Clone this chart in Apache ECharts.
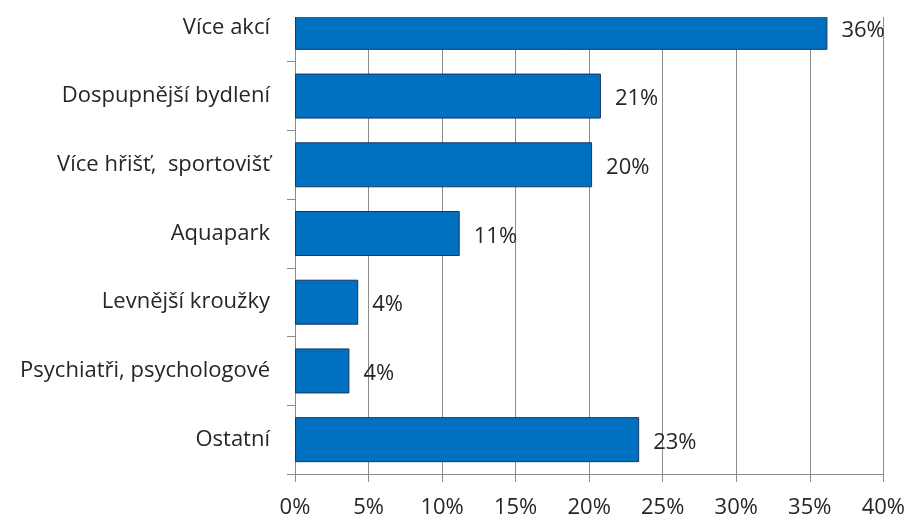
<!DOCTYPE html>
<html>
<head>
<meta charset="utf-8">
<script src="https://cdn.jsdelivr.net/npm/echarts@6/dist/echarts.min.js"></script>
<style>
  html, body { margin: 0; padding: 0; background: #fff; overflow: hidden; }
  /* the plot starts a few px above the visible picture */
  #chart { width: 908px; height: 526px; margin-top: -7px; }
</style>
</head>
<body>
<div id="chart"></div>
<script>
const categories = [
  'Více akcí',
  'Dospupnější bydlení',
  'Více hřišť,  sportovišť',
  'Aquapark',
  'Levnější kroužky',
  'Psychiatři, psychologové',
  'Ostatní',
]
const values = [36.2, 20.8, 20.2, 11.2, 4.3, 3.7, 23.4]
const xTicks = [0, 5, 10, 15, 20, 25, 30, 35, 40]

const font = '"Open Sans", sans-serif'
const lineColor = '#8c8c8c'
const textColor = '#262626'

const myChart = echarts.init(document.getElementById('chart'))
const option = {
  backgroundColor: '#fff',
  animation: false,
  grid: {
    left: 295,
    right: 24,
    top: 0,
    bottom: 45,
  },
  xAxis: {
    type: 'value',
    min: xTicks[0],
    max: xTicks[xTicks.length - 1],
    interval: 5,
    axisLabel: {
      formatter: '{value}%',
      fontSize: 22,
      fontFamily: font,
      color: textColor,
      margin: 23,
    },
    axisLine: { show: true, lineStyle: { color: lineColor } },
    axisTick: { show: true, length: 8, lineStyle: { color: lineColor } },
    splitLine: { show: true, lineStyle: { color: lineColor, width: 1 } },
  },
  yAxis: {
    type: 'category',
    inverse: true,
    data: categories,
    axisLabel: {
      fontSize: 22,
      fontFamily: font,
      color: textColor,
      margin: 25,
    },
    axisLine: { show: true, lineStyle: { color: lineColor } },
    axisTick: { show: true, length: 8, lineStyle: { color: lineColor } },
    splitLine: { show: false },
  },
  series: [
    {
      type: 'bar',
      data: values,
      barWidth: 45,
      itemStyle: {
        color: '#0070C0',
        borderColor: '#17375E',
        borderWidth: 1,
      },
      label: {
        show: true,
        position: 'right',
        distance: 14,
        offset: [0, 3],
        fontSize: 22,
        fontFamily: font,
        color: textColor,
        formatter: (p) => Math.round(p.value) + '%',
      },
    },
  ],
  // white strip: the original picture is cut off above the plot
  graphic: [
    {
      type: 'rect',
      left: 0,
      top: 0,
      z: 100,
      shape: { width: 908, height: 24 },
      style: { fill: '#fff' },
    },
  ],
}
myChart.setOption(option, true)
</script>
</body>
</html>
